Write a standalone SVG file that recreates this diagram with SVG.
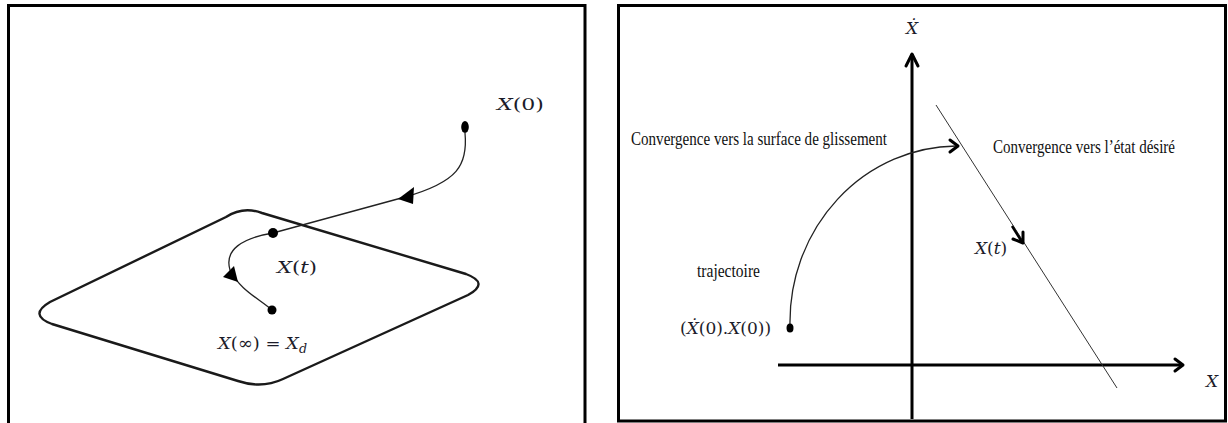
<svg xmlns="http://www.w3.org/2000/svg" width="1228" height="423" viewBox="0 0 1228 423">
  <style>
    .frame { fill: none; stroke: #000; stroke-width: 3; }
    .plane { fill: none; stroke: #1a1a1a; stroke-width: 2.4; }
    .traj { fill: none; stroke: #222; stroke-width: 1.3; }
    .axis { fill: none; stroke: #000; stroke-width: 3; }
    .head { fill: none; stroke: #000; stroke-width: 3; stroke-linecap: round; stroke-linejoin: round; }
    .thin { fill: none; stroke: #333; stroke-width: 1; }
    .math { font-family: "DejaVu Serif", "Liberation Serif", serif; font-size: 17px; fill: #1c1c2a; }
    .mi { font-style: italic; }
    .lbl { font-family: "Liberation Serif", serif; font-size: 18px; fill: #111; }
  </style>
  <rect width="1228" height="423" fill="#fff"/>

  <g id="left-panel">
    <path class="frame" d="M 8.5,430 L 8.5,5.5 L 585,5.5 L 585,430"/>
  </g>

  <g id="sliding-surface">
    <path class="plane" d="M 226,217 Q 243,206 262,213 L 466,274 Q 490,283 468,295 L 283,379 Q 262,389 238,381 L 52,324 Q 28,315 50,302 Z"/>
  </g>

  <g id="connectors">
    <path class="traj" d="M 465,133 C 468,165 458,182 405,197 L 273,233"/>
    <polygon points="398,199 414,187 413,204" fill="#000"/>
    <path class="traj" d="M 273,233 C 242,238 224,250 230,270 C 240,290 258,298 272,310"/>
    <polygon points="234,266 223,277 238,282" fill="#000"/>
  </g>

  <g id="node-x0">
    <ellipse cx="465" cy="127" rx="3.8" ry="6" fill="#000"/>
    <text class="math" x="497" y="110" textLength="47" lengthAdjust="spacingAndGlyphs"><tspan class="mi">X</tspan>(0)</text>
  </g>
  <g id="node-xt">
    <circle cx="273" cy="233" r="5" fill="#000"/>
    <text class="math" x="277" y="273" textLength="40" lengthAdjust="spacingAndGlyphs"><tspan class="mi">X</tspan>(<tspan class="mi">t</tspan>)</text>
  </g>
  <g id="node-xinf">
    <circle cx="272" cy="310" r="4.5" fill="#000"/>
    <text class="math" x="218" y="349" textLength="89" lengthAdjust="spacingAndGlyphs"><tspan class="mi">X</tspan>(∞) = <tspan class="mi">X</tspan><tspan class="mi" font-size="12" dy="4">d</tspan></text>
  </g>

  <g id="right-panel">
    <rect class="frame" x="618.5" y="5.5" width="607" height="415.5"/>
  </g>

  <g id="axes">
    <line class="axis" x1="912" y1="419" x2="912" y2="54"/>
    <polyline class="head" points="906,66 912,54 918,66"/>
    <line class="axis" x1="778" y1="365" x2="1182" y2="365"/>
    <polyline class="head" points="1175,359 1183,365 1175,371"/>
    <text class="math mi" x="906" y="34" font-size="16">Ẋ</text>
    <text class="math mi" x="1206" y="387" font-size="18">X</text>
  </g>

  <g id="sliding-line">
    <line class="thin" x1="936" y1="105" x2="1117" y2="388"/>
    <line x1="1012" y1="226" x2="1022" y2="242" stroke="#000" stroke-width="2.5"/>
    <polyline class="head" stroke-width="2.5" points="1023,232 1023,243 1013,239"/>
  </g>

  <g id="reaching-trajectory">
    <path class="traj" d="M 790,325 A 168,176 0 0 1 956,146"/>
    <polyline class="head" stroke-width="2.2" points="950,140 958,146 950,152"/>
    <ellipse cx="790" cy="328" rx="3.5" ry="4.5" fill="#000"/>
  </g>

  <g id="labels">
    <text class="lbl" x="631" y="145" textLength="256" lengthAdjust="spacingAndGlyphs">Convergence vers la surface de glissement</text>
    <text class="lbl" x="993" y="153" textLength="182" lengthAdjust="spacingAndGlyphs">Convergence vers l’état désiré</text>
    <text class="lbl" x="697" y="277" textLength="63" lengthAdjust="spacingAndGlyphs">trajectoire</text>
    <text class="math" x="680" y="334" font-size="14">(<tspan class="mi">Ẋ</tspan>(0).<tspan class="mi">X</tspan>(0))</text>
    <text class="math" x="975" y="254" font-size="14"><tspan class="mi">X</tspan>(<tspan class="mi">t</tspan>)</text>
  </g>
</svg>
